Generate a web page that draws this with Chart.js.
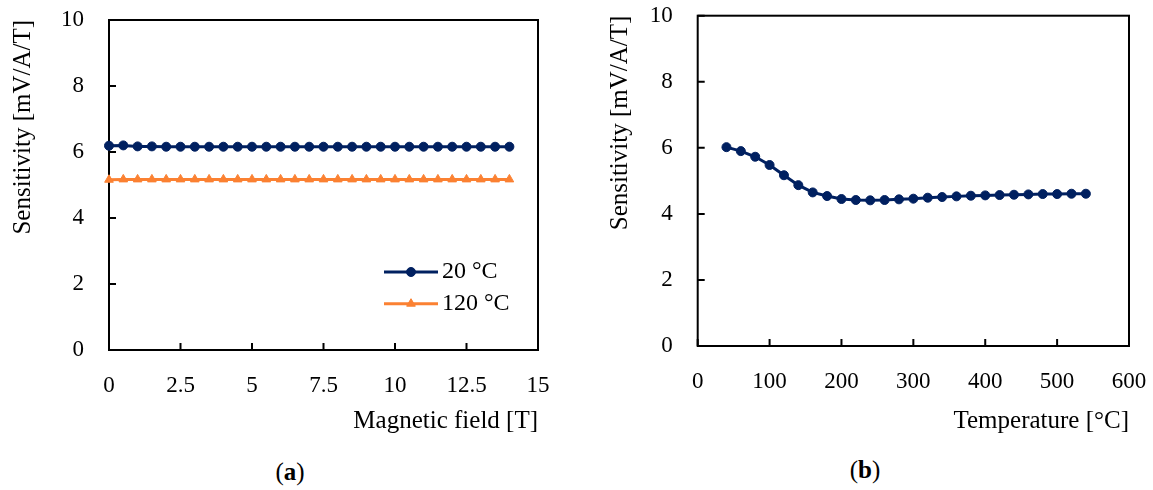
<!DOCTYPE html>
<html>
<head>
<meta charset="utf-8">
<script src="https://cdn.jsdelivr.net/npm/chart.js@4.4.0/dist/chart.umd.min.js"></script>
<style>
  body { margin: 0; background: #fff; width: 1153px; height: 490px; position: relative; overflow: hidden; font-family: "Liberation Serif", serif; }
  .box { position: absolute; top: 0; }
  #boxA { left: 0; }
  #boxB { left: 580px; }
  .cap { position: absolute; font-size: 25px; color: #000; transform: translate(-50%, -50%); }
</style>
</head>
<body>
<div class="box" id="boxA"><canvas id="chartA" width="575" height="445"></canvas></div>
<div class="box" id="boxB"><canvas id="chartB" width="573" height="445"></canvas></div>
<div class="cap" style="left:290px;top:472px">(<b>a</b>)</div>
<div class="cap" style="left:865px;top:470px">(<b>b</b>)</div>
<script>
// (a) sensitivity vs magnetic field
var fieldT = [0, 0.5, 1, 1.5, 2, 2.5, 3, 3.5, 4, 4.5, 5, 5.5, 6, 6.5, 7, 7.5, 8, 8.5, 9, 9.5, 10, 10.5, 11, 11.5, 12, 12.5, 13, 13.5, 14];
var sens20C = [6.19, 6.20, 6.17, 6.17, 6.16, 6.16, 6.16, 6.16, 6.16, 6.16, 6.16, 6.16, 6.16, 6.16, 6.16, 6.16, 6.16, 6.16, 6.16, 6.16, 6.16, 6.16, 6.16, 6.16, 6.16, 6.16, 6.16, 6.16, 6.16];
var sens120C = [5.16, 5.17, 5.17, 5.17, 5.17, 5.17, 5.17, 5.17, 5.17, 5.17, 5.17, 5.17, 5.17, 5.17, 5.17, 5.17, 5.17, 5.17, 5.17, 5.17, 5.17, 5.17, 5.17, 5.17, 5.17, 5.17, 5.17, 5.17, 5.17];
var seriesNamesA = ['20 °C', '120 °C'];

// (b) sensitivity vs temperature
var tempC = [40, 60, 80, 100, 120, 140, 160, 180, 200, 220, 240, 260, 280, 300, 320, 340, 360, 380, 400, 420, 440, 460, 480, 500, 520, 540];
var sensTemp = [6.02, 5.90, 5.73, 5.48, 5.17, 4.87, 4.65, 4.54, 4.45, 4.42, 4.41, 4.42, 4.44, 4.46, 4.49, 4.51, 4.53, 4.55, 4.56, 4.57, 4.58, 4.59, 4.60, 4.60, 4.61, 4.61];

var NAVY = '#002060';
var ORANGE = '#FB8132';

Chart.defaults.font.family = '"Liberation Serif", serif';
Chart.defaults.color = '#000';

function toXY(xs, ys) {
  return xs.map(function (x, i) { return { x: x, y: ys[i] }; });
}

// box around the plot with tick marks pointing inwards
var framePlugin = {
  id: 'frame',
  beforeDatasetsDraw: function (chart) {
    var ctx = chart.ctx, a = chart.chartArea;
    var xs = chart.scales.x, ys = chart.scales.y;
    ctx.save();
    ctx.strokeStyle = '#000';
    ctx.lineWidth = 2;
    ctx.strokeRect(a.left, a.top, a.right - a.left, a.bottom - a.top);
    ctx.beginPath();
    ys.ticks.forEach(function (t) {
      var p = ys.getPixelForValue(t.value);
      ctx.moveTo(a.left, p); ctx.lineTo(a.left + 7, p);
    });
    xs.ticks.forEach(function (t) {
      var p = xs.getPixelForValue(t.value);
      ctx.moveTo(p, a.bottom); ctx.lineTo(p, a.bottom - 7);
    });
    ctx.stroke();
    ctx.restore();
  }
};

// legend drawn inside the plot area, lower right
var insideLegend = {
  id: 'insideLegend',
  afterDatasetsDraw: function (chart) {
    var ctx = chart.ctx, a = chart.chartArea;
    chart.data.datasets.forEach(function (ds, i) {
      var x0 = a.right - 154, x1 = a.right - 100, y = a.bottom - 78 + i * 31.7;
      ctx.save();
      ctx.strokeStyle = ds.borderColor;
      ctx.lineWidth = ds.borderWidth;
      ctx.beginPath(); ctx.moveTo(x0, y); ctx.lineTo(x1, y); ctx.stroke();
      ctx.fillStyle = ds.pointBackgroundColor;
      ctx.strokeStyle = ds.pointBorderColor;
      ctx.lineWidth = ds.pointBorderWidth;
      Chart.helpers.drawPoint(ctx, { pointStyle: ds.pointStyle, radius: ds.pointRadius, rotation: 0, borderWidth: ds.pointBorderWidth }, (x0 + x1) / 2, y);
      ctx.fillStyle = '#000';
      ctx.font = '24px "Liberation Serif", serif';
      ctx.textBaseline = 'middle';
      ctx.textAlign = 'left';
      ctx.fillText(ds.label, x1 + 4, y);
      ctx.restore();
    });
  }
};

function makeScales(xMax, xStep, xTitle, yWidth, xHeight, yTitlePad, xTitlePad) {
  return {
    x: {
      type: 'linear', min: 0, max: xMax,
      grid: { display: false, drawTicks: false },
      border: { display: false },
      ticks: { stepSize: xStep, padding: 22.5, font: { size: 23 }, maxRotation: 0 },
      title: { display: true, text: xTitle, align: 'end', font: { size: 25 }, padding: { top: 0, bottom: xTitlePad } },
      afterFit: function (scale) {
        scale.height = xHeight;
        scale.paddingLeft = 0; scale.paddingRight = 0;
      }
    },
    y: {
      min: 0, max: 10,
      grid: { display: false, drawTicks: false },
      border: { display: false },
      ticks: { stepSize: 2, padding: 25, font: { size: 23 } },
      title: { display: true, text: 'Sensitivity [mV/A/T]', align: 'end', font: { size: 25 }, padding: { top: yTitlePad, bottom: 0 } },
      afterFit: function (scale) {
        scale.width = yWidth;
        scale.paddingTop = 0; scale.paddingBottom = 0;
      }
    }
  };
}

function lineSet(label, data, color, style, radius) {
  return {
    label: label, data: data,
    borderColor: color, borderWidth: 3,
    pointStyle: style, pointRadius: radius, pointBorderWidth: 1,
    pointBackgroundColor: color, pointBorderColor: color,
    pointHoverRadius: radius,
    tension: 0, clip: false
  };
}

var chartA = new Chart(document.getElementById('chartA'), {
  type: 'line',
  data: {
    datasets: [
      lineSet(seriesNamesA[0], toXY(fieldT, sens20C), NAVY, 'circle', 4.5),
      lineSet(seriesNamesA[1], toXY(fieldT, sens120C), ORANGE, 'triangle', 5)
    ]
  },
  options: {
    responsive: false, animation: false,
    layout: { padding: { top: 20, right: 37, left: 0, bottom: 0 } },
    plugins: { legend: { display: false }, tooltip: { enabled: false } },
    scales: makeScales(15, 2.5, 'Magnetic field [T]', 109, 95, 8.3, 8.3)
  },
  plugins: [framePlugin, insideLegend]
});

var chartB = new Chart(document.getElementById('chartB'), {
  type: 'line',
  data: {
    datasets: [
      lineSet('Sensitivity', toXY(tempC, sensTemp), NAVY, 'circle', 4.5)
    ]
  },
  options: {
    responsive: false, animation: false,
    layout: { padding: { top: 15.7, right: 24, left: 0, bottom: 0 } },
    plugins: { legend: { display: false }, tooltip: { enabled: false } },
    scales: makeScales(600, 100, 'Temperature [°C]', 117.7, 99, 25.5, 8.3)
  },
  plugins: [framePlugin]
});
</script>
</body>
</html>
